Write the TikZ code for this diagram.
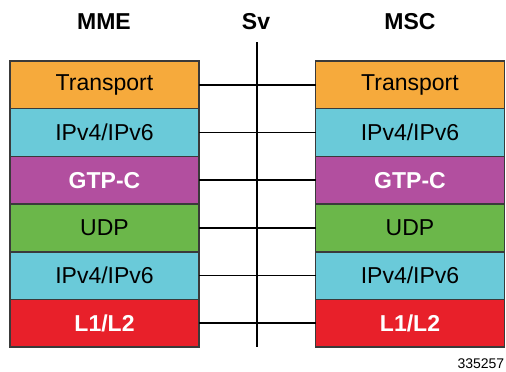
\documentclass[tikz,border=0pt]{standalone}
\usepackage{fontspec}
\setmainfont{Liberation Sans}
\usetikzlibrary{positioning}
\definecolor{transportorange}{HTML}{F6AA3C}
\definecolor{iplightblue}{HTML}{6ACAD9}
\definecolor{gtppurple}{HTML}{B24F9F}
\definecolor{udpgreen}{HTML}{6BB74A}
\definecolor{lonered}{HTML}{E8202A}
\definecolor{boxedge}{HTML}{3A3A3A}
\tikzset{every picture/.style={line width=0.75pt}}
\tikzset{
  layer/.style={draw=boxedge, minimum width=94.5pt, minimum height=23.85pt,
    inner sep=0pt, outer sep=0pt, font=\fontsize{11.5}{13}\selectfont},
  boldlayer/.style={layer, text=white, font=\fontsize{11.5}{13}\selectfont\bfseries},
  hdr/.style={font=\fontsize{11.5}{13}\selectfont\bfseries},
  link/.style={draw=black, line width=0.85pt}
}

\begin{document}
\begin{tikzpicture}[x=0.5pt, y=-0.5pt]
    % 画布
    \useasboundingbox (0,0) rectangle (506,371);

    % 标题
    \node[hdr] (mme) at (104,22) {MME};
    \node[hdr] (sv) at (256,22) {Sv};
    \node[hdr] (msc) at (410,22) {MSC};

    % MME 协议栈
    \node[layer, fill=transportorange] (mmeTransport) at (104.5,84.8) {Transport};
    \node[layer, fill=iplightblue, below=0pt of mmeTransport] (mmeIpA) {IPv4/IPv6};
    \node[boldlayer, fill=gtppurple, below=0pt of mmeIpA] (mmeGtp) {GTP-C};
    \node[layer, fill=udpgreen, below=0pt of mmeGtp] (mmeUdp) {UDP};
    \node[layer, fill=iplightblue, below=0pt of mmeUdp] (mmeIpB) {IPv4/IPv6};
    \node[boldlayer, fill=lonered, below=0pt of mmeIpB] (mmeL) {L1/L2};

    % MSC 协议栈
    \node[layer, fill=transportorange] (mscTransport) at (410,84.8) {Transport};
    \node[layer, fill=iplightblue, below=0pt of mscTransport] (mscIpA) {IPv4/IPv6};
    \node[boldlayer, fill=gtppurple, below=0pt of mscIpA] (mscGtp) {GTP-C};
    \node[layer, fill=udpgreen, below=0pt of mscGtp] (mscUdp) {UDP};
    \node[layer, fill=iplightblue, below=0pt of mscUdp] (mscIpB) {IPv4/IPv6};
    \node[boldlayer, fill=lonered, below=0pt of mscIpB] (mscL) {L1/L2};

    % Sv 接口线
    \coordinate (svTop) at (257,42);
    \coordinate (svBot) at (257,347);
    \draw[link] (svTop) -- (svBot);

    % 对等层连线
    \draw[link] (mmeTransport.east) -- (mscTransport.west);
    \draw[link] (mmeIpA.east) -- (mscIpA.west);
    \draw[link] (mmeGtp.east) -- (mscGtp.west);
    \draw[link] (mmeUdp.east) -- (mscUdp.west);
    \draw[link] (mmeIpB.east) -- (mscIpB.west);
    \draw[link] (mmeL.east) -- (mscL.west);

    % 图号
    \node[anchor=east, inner sep=0pt, font=\fontsize{7}{8}\selectfont] (figno) at (505,364) {335257};
\end{tikzpicture}
\end{document}
